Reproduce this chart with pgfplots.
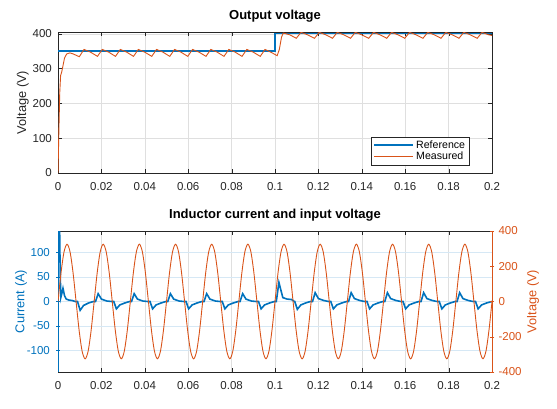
\documentclass[border=0pt]{standalone}
\usepackage{pgfplots}
\pgfplotsset{compat=1.18}
\usepackage{fontspec}
\setmainfont{Liberation Sans}
\definecolor{mblue}{RGB}{0,114,189}
\definecolor{morange}{RGB}{217,83,25}
\definecolor{axgray}{RGB}{38,38,38}
\definecolor{gridgray}{RGB}{223,223,223}
\definecolor{gridblue}{RGB}{214,232,245}
\pgfplotsset{
  mybase/.style={
    scale only axis, width=434pt, height=141pt, anchor=south west,
    xmin=0, xmax=0.2,
    tick align=inside,
    major tick length=4pt,
    every tick label/.append style={font=\fontsize{11.5}{13}\selectfont},
    xticklabel style={yshift=-5.5pt, text=axgray},
    title style={font=\fontsize{13}{15}\selectfont\bfseries, inner sep=0pt, yshift=3.6pt},
  }
}
\begin{document}
\begin{tikzpicture}
\path[use as bounding box] (0,0) rectangle (557pt,408pt);
% ---------------- top axis
\begin{axis}[mybase, at={(58pt,235pt)},
  ymin=0, ymax=405,
  xtick={0,0.02,0.04,0.06,0.08,0.1,0.12,0.14,0.16,0.18,0.2},
  xticklabels={0,0.02,0.04,0.06,0.08,0.1,0.12,0.14,0.16,0.18,0.2},
  ytick={0,100,200,300,400},
  yticklabels={0,100,200,300,400},
  yticklabel style={xshift=-2.6pt, text=axgray},
  axis line style={axgray}, tick style={axgray},
  grid=major, grid style={gridgray},
  title={Output voltage},
  ylabel={Voltage (V)},
  ylabel style={at={(axis description cs:-0.081,0.5)}, anchor=center, text=axgray, font=\fontsize{12.8}{15}\selectfont},
  legend style={at={(0.9477,0.0567)}, anchor=south east, draw=axgray, fill=white,
    font=\fontsize{10.6}{12}\selectfont, inner xsep=2pt, inner ysep=1.5pt, row sep=-1.5pt},
  legend cell align=left,
  legend image code/.code={\draw[#1] (0pt,0pt) -- (39pt,0pt);},
]
\addplot[color=mblue, line width=1.5pt] coordinates {(0,350) (0.1,350) (0.1,400) (0.2,400)};
\addlegendentry{Reference}
\addplot[color=morange, line width=0.9pt] coordinates {
(0,0) (0.0004,120) (0.0008,230) (0.0012,280) (0.0017,290) (0.0022,305) (0.0030,330)
(0.0040,342) (0.0055,345) (0.0070,342) (0.0098,334)
(0.0120,355) (0.0150,347) (0.0182,335)
(0.0204,355) (0.0234,347) (0.0265,335)
(0.0287,355) (0.0317,347) (0.0348,335)
(0.0370,355) (0.0400,347) (0.0432,335)
(0.0454,355) (0.0484,347) (0.0515,335)
(0.0537,355) (0.0567,347) (0.0598,335)
(0.0620,355) (0.0650,347) (0.0682,335)
(0.0704,355) (0.0734,347) (0.0765,335)
(0.0787,355) (0.0817,347) (0.0848,335)
(0.0870,355) (0.0900,347) (0.0932,335)
(0.0954,355) (0.0984,346) (0.1010,337)
(0.1020,355) (0.1030,390) (0.1038,402) (0.1068,397) (0.1098,387)
(0.1120,404) (0.1150,397) (0.1182,387)
(0.1204,404) (0.1234,397) (0.1265,387)
(0.1287,404) (0.1317,397) (0.1348,387)
(0.1370,404) (0.1400,397) (0.1432,387)
(0.1454,404) (0.1484,397) (0.1515,387)
(0.1537,404) (0.1567,397) (0.1598,387)
(0.1620,404) (0.1650,397) (0.1682,387)
(0.1704,404) (0.1734,397) (0.1765,387)
(0.1787,404) (0.1817,397) (0.1848,387)
(0.1870,404) (0.1900,397) (0.1932,387)
(0.1954,404) (0.1984,397) (0.2000,395)
};
\addlegendentry{Measured}
\end{axis}
% ---------------- bottom axis, left (current)
\begin{axis}[mybase, at={(58pt,36pt)},
  ymin=-144, ymax=144,
  axis y line=left,
  every outer y axis line/.append style={-},
  y axis line style={-, mblue},
  x axis line style={axgray},
  xtick={0,0.02,0.04,0.06,0.08,0.1,0.12,0.14,0.16,0.18,0.2},
  xticklabels={0,0.02,0.04,0.06,0.08,0.1,0.12,0.14,0.16,0.18,0.2},
  xtick style={axgray},
  ytick={-100,-50,0,50,100},
  yticklabels={-100,-50,0,50,100},
  ytick style={mblue},
  yticklabel style={xshift=-2.6pt, text=mblue},
  xmajorgrids, ymajorgrids,
  x grid style={gridgray}, y grid style={gridblue},
  title={Inductor current and input voltage},
  ylabel={Current (A)},
  ylabel style={at={(axis description cs:-0.085,0.5)}, anchor=center, text=mblue, font=\fontsize{12.8}{15}\selectfont},
]
\addplot[color=mblue, line width=1.6pt] coordinates {
(0,0) (0.0002,250) (0.0006,200) (0.0010,60) (0.0013,8) (0.0017,15) (0.0023,27)
(0.0030,12) (0.0038,5) (0.0050,3) (0.0065,2) (0.0080,0)
(0.0090,0) (0.0102,-18) (0.0118,-8) (0.0141,-3) (0.0163,0)
(0.0173,0) (0.0185,16) (0.0200,5) (0.0212,3) (0.0225,1) (0.0247,0)
(0.0257,0) (0.0269,-15) (0.0285,-7) (0.0308,-3) (0.0330,0)
(0.0339,0) (0.0351,16) (0.0366,5) (0.0378,3) (0.0391,1) (0.0413,0)
(0.0424,0) (0.0436,-15) (0.0452,-7) (0.0475,-3) (0.0497,0)
(0.0506,0) (0.0518,16) (0.0533,5) (0.0545,3) (0.0558,1) (0.0580,0)
(0.0590,0) (0.0602,-15) (0.0618,-7) (0.0641,-3) (0.0663,0)
(0.0673,0) (0.0685,16) (0.0700,5) (0.0712,3) (0.0725,1) (0.0747,0)
(0.0757,0) (0.0769,-15) (0.0785,-7) (0.0808,-3) (0.0830,0)
(0.0839,0) (0.0851,16) (0.0866,5) (0.0878,3) (0.0891,1) (0.0913,0)
(0.0924,0) (0.0936,-15) (0.0952,-7) (0.0975,-3) (0.0997,0)
(0.1006,0) (0.1018,39) (0.1036,8) (0.1055,5) (0.1077,4) (0.1089,0)
(0.1091,0) (0.1103,-16) (0.1119,-7) (0.1141,-3) (0.1163,0)
(0.1173,0) (0.1185,18) (0.1200,6) (0.1212,4) (0.1225,2) (0.1247,0)
(0.1257,0) (0.1269,-15) (0.1285,-7) (0.1308,-3) (0.1330,0)
(0.1339,0) (0.1351,18) (0.1366,6) (0.1378,4) (0.1391,2) (0.1413,0)
(0.1424,0) (0.1436,-15) (0.1452,-7) (0.1475,-3) (0.1497,0)
(0.1506,0) (0.1518,18) (0.1533,6) (0.1545,4) (0.1558,2) (0.1580,0)
(0.1590,0) (0.1602,-15) (0.1618,-7) (0.1641,-3) (0.1663,0)
(0.1673,0) (0.1685,18) (0.1700,6) (0.1712,4) (0.1725,2) (0.1747,0)
(0.1757,0) (0.1769,-15) (0.1785,-7) (0.1808,-3) (0.1830,0)
(0.1839,0) (0.1851,18) (0.1866,6) (0.1878,4) (0.1891,2) (0.1913,0)
(0.1924,0) (0.1936,-15) (0.1952,-7) (0.1975,-3) (0.2000,0)
};
\end{axis}
% ---------------- bottom axis, right (voltage)
\begin{axis}[mybase, at={(58pt,36pt)},
  ymin=-400, ymax=400,
  axis y line=right,
  every outer y axis line/.append style={-},
  y axis line style={-, morange},
  hide x axis,
  ytick={-400,-200,0,200,400},
  yticklabels={-400,-200,0,200,400},
  ytick style={morange},
  yticklabel style={xshift=1pt, text=morange},
  ylabel={Voltage (V)},
  ylabel style={at={(axis description cs:1.0945,0.5)}, anchor=center, text=morange, font=\fontsize{12.8}{15}\selectfont},
]
\addplot[color=morange, line width=0.9pt, smooth] coordinates {
(0,0) (0.001389,162.5) (0.002778,281.5) (0.004167,325) (0.005556,281.5) (0.006944,162.5)
(0.008333,0) (0.009722,-162.5) (0.011111,-281.5) (0.0125,-325) (0.013889,-281.5) (0.015278,-162.5)
(0.016667,0) (0.018056,162.5) (0.019444,281.5) (0.020833,325) (0.022222,281.5) (0.023611,162.5)
(0.025,0) (0.026389,-162.5) (0.027778,-281.5) (0.029167,-325) (0.030556,-281.5) (0.031944,-162.5)
(0.033333,0) (0.034722,162.5) (0.036111,281.5) (0.0375,325) (0.038889,281.5) (0.040278,162.5)
(0.041667,0) (0.043056,-162.5) (0.044444,-281.5) (0.045833,-325) (0.047222,-281.5) (0.048611,-162.5)
(0.05,0) (0.051389,162.5) (0.052778,281.5) (0.054167,325) (0.055556,281.5) (0.056944,162.5)
(0.058333,0) (0.059722,-162.5) (0.061111,-281.5) (0.0625,-325) (0.063889,-281.5) (0.065278,-162.5)
(0.066667,0) (0.068056,162.5) (0.069444,281.5) (0.070833,325) (0.072222,281.5) (0.073611,162.5)
(0.075,0) (0.076389,-162.5) (0.077778,-281.5) (0.079167,-325) (0.080556,-281.5) (0.081944,-162.5)
(0.083333,0) (0.084722,162.5) (0.086111,281.5) (0.0875,325) (0.088889,281.5) (0.090278,162.5)
(0.091667,0) (0.093056,-162.5) (0.094444,-281.5) (0.095833,-325) (0.097222,-281.5) (0.098611,-162.5)
(0.1,0) (0.101389,162.5) (0.102778,281.5) (0.104167,325) (0.105556,281.5) (0.106944,162.5)
(0.108333,0) (0.109722,-162.5) (0.111111,-281.5) (0.1125,-325) (0.113889,-281.5) (0.115278,-162.5)
(0.116667,0) (0.118056,162.5) (0.119444,281.5) (0.120833,325) (0.122222,281.5) (0.123611,162.5)
(0.125,0) (0.126389,-162.5) (0.127778,-281.5) (0.129167,-325) (0.130556,-281.5) (0.131944,-162.5)
(0.133333,0) (0.134722,162.5) (0.136111,281.5) (0.1375,325) (0.138889,281.5) (0.140278,162.5)
(0.141667,0) (0.143056,-162.5) (0.144444,-281.5) (0.145833,-325) (0.147222,-281.5) (0.148611,-162.5)
(0.15,0) (0.151389,162.5) (0.152778,281.5) (0.154167,325) (0.155556,281.5) (0.156944,162.5)
(0.158333,0) (0.159722,-162.5) (0.161111,-281.5) (0.1625,-325) (0.163889,-281.5) (0.165278,-162.5)
(0.166667,0) (0.168056,162.5) (0.169444,281.5) (0.170833,325) (0.172222,281.5) (0.173611,162.5)
(0.175,0) (0.176389,-162.5) (0.177778,-281.5) (0.179167,-325) (0.180556,-281.5) (0.181944,-162.5)
(0.183333,0) (0.184722,162.5) (0.186111,281.5) (0.1875,325) (0.188889,281.5) (0.190278,162.5)
(0.191667,0) (0.193056,-162.5) (0.194444,-281.5) (0.195833,-325) (0.197222,-281.5) (0.198611,-162.5)
(0.2,0)
};
\end{axis}
\end{tikzpicture}
\end{document}
